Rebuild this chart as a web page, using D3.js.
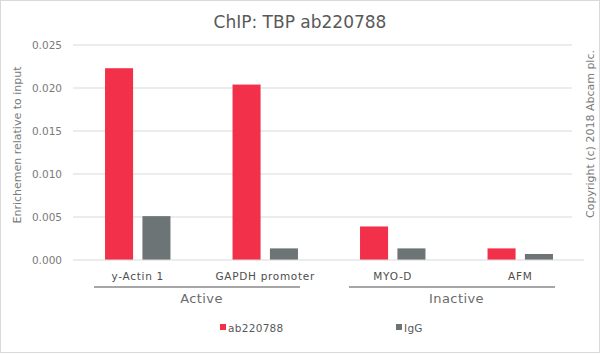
<!DOCTYPE html>
<html lang="en">
<head>
<meta charset="utf-8">
<title>ChIP: TBP ab220788</title>
<script src="https://cdn.jsdelivr.net/npm/d3@7"></script>
<style>
  body { margin: 0; background: #fff; }
  svg text { font-family: "DejaVu Sans", sans-serif; fill: #595959; }
</style>
</head>
<body>
<script>
// data
const categories = ["y-Actin 1", "GAPDH promoter", "MYO-D", "AFM"];
const groups = ["Active", "Active", "Inactive", "Inactive"];
const seriesNames = ["ab220788", "IgG"];
const ab220788 = [0.0223, 0.0204, 0.0039, 0.00135];
const igg = [0.0051, 0.00135, 0.00135, 0.0007];
const yTicks = [0, 0.005, 0.010, 0.015, 0.020, 0.025];
const colors = ["#f2304a", "#6c7476"];

const w = 600, h = 354;
const margin = {top: 45, right: 16, bottom: 94, left: 74};

const svg = d3.select("body").append("svg")
  .attr("width", w).attr("height", h);

// frame
svg.append("rect")
  .attr("x", 0.5).attr("y", 0.5)
  .attr("width", w - 1).attr("height", h - 2)
  .attr("fill", "none").attr("stroke", "#d9d9d9");

const x = d3.scaleBand().domain(categories)
  .range([margin.left, w - margin.right]).paddingInner(0).paddingOuter(0);
const x1 = d3.scaleBand().domain(seriesNames)
  .range([0, x.bandwidth()]).paddingInner(0.25).paddingOuter(0.83);
const y = d3.scaleLinear().domain([0, 0.025]).range([h - margin.bottom, margin.top]);

// gridlines
svg.append("g").selectAll("line")
  .data(yTicks.filter(d => d > 0))
  .join("line")
  .attr("x1", margin.left - 1).attr("x2", w - margin.right - 12)
  .attr("y1", d => y(d)).attr("y2", d => y(d))
  .attr("stroke", "#d9d9d9").attr("stroke-width", 1);

// y axis labels
svg.append("g").selectAll("text")
  .data(yTicks)
  .join("text")
  .attr("x", 62).attr("y", d => y(d))
  .attr("dy", "0.35em")
  .attr("text-anchor", "end")
  .attr("font-size", 10.5)
  .style("fill", "#7a7a7a")
  .text(d => d3.format(".3f")(d));

// bars
const rows = categories.map((c, i) => ({cat: c, vals: [ab220788[i], igg[i]]}));
const cg = svg.append("g").selectAll("g")
  .data(rows).join("g")
  .attr("transform", d => `translate(${x(d.cat)},0)`);
cg.selectAll("rect")
  .data(d => d.vals.map((v, j) => ({s: seriesNames[j], v, j})))
  .join("rect")
  .attr("x", d => x1(d.s))
  .attr("width", x1.bandwidth())
  .attr("y", d => y(d.v))
  .attr("height", d => y(0) - y(d.v))
  .attr("fill", d => colors[d.j]);

// baseline
svg.append("line")
  .attr("x1", margin.left - 1).attr("x2", w - margin.right)
  .attr("y1", y(0)).attr("y2", y(0))
  .attr("stroke", "#d9d9d9");

// category labels
svg.append("g").selectAll("text")
  .data(categories).join("text")
  .attr("x", d => x(d) + x.bandwidth() / 2)
  .attr("y", y(0) + 20)
  .attr("text-anchor", "middle")
  .attr("font-size", 10.5)
  .attr("letter-spacing", 0.7)
  .style("fill", "#4d4d4d")
  .text(d => d);

// group brackets
const groupNames = Array.from(new Set(groups));
const groupSpans = groupNames.map(g => {
  const cats = categories.filter((c, i) => groups[i] === g);
  return {g, x0: x(cats[0]), x1: x(cats[cats.length - 1]) + x.bandwidth()};
});
const gg = svg.append("g").selectAll("g").data(groupSpans).join("g");
gg.append("line")
  .attr("x1", d => d.x0 + 20).attr("x2", d => d.x1 - 29)
  .attr("y1", y(0) + 27).attr("y2", y(0) + 27)
  .attr("stroke", "#a6a6a6").attr("stroke-width", 2);
gg.append("text")
  .attr("x", d => (d.x0 + d.x1) / 2)
  .attr("y", y(0) + 43)
  .attr("text-anchor", "middle")
  .attr("font-size", 13)
  .attr("letter-spacing", 0.4)
  .style("fill", "#6b6b6b")
  .text(d => d.g);

// legend
const legend = svg.append("g").selectAll("g")
  .data(seriesNames).join("g")
  .attr("transform", (d, i) => `translate(${[220, 396][i]},328)`);
legend.append("rect")
  .attr("x", 0).attr("y", -4).attr("width", 6).attr("height", 6)
  .attr("fill", (d, i) => colors[i]);
legend.append("text")
  .attr("x", 8).attr("y", 0).attr("dy", "0.35em")
  .attr("font-size", 10.5)
  .attr("letter-spacing", 0.3)
  .text(d => d);

// title
svg.append("text")
  .attr("x", 300).attr("y", 28)
  .attr("text-anchor", "middle")
  .attr("font-size", 17)
  .text("ChIP: TBP ab220788");

// y axis title
svg.append("text")
  .attr("transform", "translate(21,145) rotate(-90)")
  .attr("text-anchor", "middle")
  .attr("font-size", 11)
  .style("fill", "#7a7a7a")
  .text("Enrichemen relative to input");

// copyright
svg.append("text")
  .attr("transform", "translate(594,134) rotate(-90)")
  .attr("text-anchor", "middle")
  .attr("font-size", 11)
  .style("fill", "#7a7a7a")
  .text("Copyright (c) 2018 Abcam plc.");
</script>
</body>
</html>
